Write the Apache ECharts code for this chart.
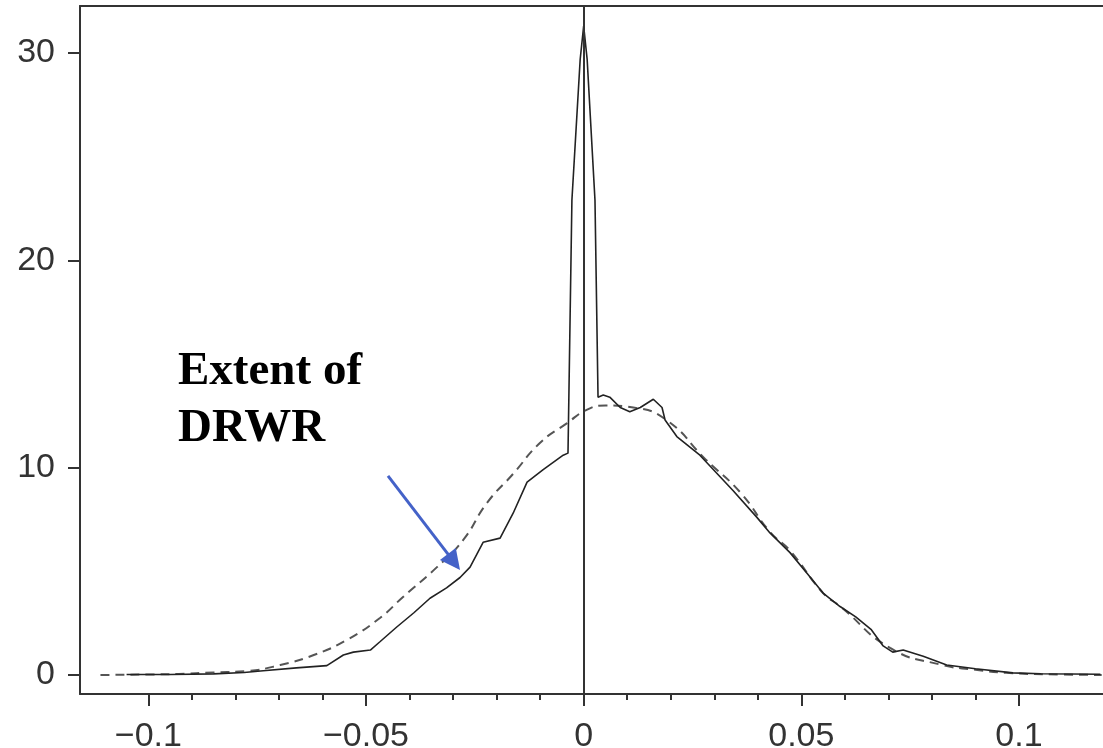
<!DOCTYPE html>
<html>
<head>
<meta charset="utf-8">
<script src="https://cdn.jsdelivr.net/npm/echarts@6/dist/echarts.min.js"></script>
<style>
  html, body { margin: 0; padding: 0; background: #fff; }
  #main { width: 1103px; height: 748px; }
</style>
</head>
<body>
<div id="main"></div>
<script>
var myChart = echarts.init(document.getElementById('main'));

// empirical density (solid line)
var empX = [-0.105, -0.095, -0.085, -0.078, -0.0736, -0.066, -0.059, -0.0552, -0.0529, -0.049,
    -0.0468, -0.043, -0.039, -0.0353, -0.0315, -0.0284, -0.0261, -0.0231, -0.0192, -0.0162,
    -0.013, -0.0093, -0.0047, -0.0036, -0.0027, -0.0008, 0, 0.0008, 0.0026, 0.0033,
    0.0045, 0.006, 0.0084, 0.0106, 0.013, 0.016, 0.018, 0.0187, 0.0214, 0.0267,
    0.0343, 0.0398, 0.0428, 0.0474, 0.0513, 0.055, 0.0589, 0.0625, 0.066, 0.0688,
    0.071, 0.0734, 0.078, 0.0834, 0.09, 0.0986, 0.105, 0.1187];
var empY = [0.02, 0.02, 0.05, 0.12, 0.2, 0.34, 0.45, 0.96, 1.1, 1.2,
    1.6, 2.3, 3.0, 3.7, 4.2, 4.7, 5.2, 6.4, 6.6, 7.8,
    9.3, 9.9, 10.6, 10.7, 22.9, 29.7, 31.3, 29.7, 22.9, 13.4,
    13.5, 13.4, 12.9, 12.7, 12.9, 13.3, 12.9, 12.3, 11.5, 10.6,
    8.9, 7.6, 6.85, 5.9, 4.9, 3.95, 3.3, 2.8, 2.2, 1.4,
    1.1, 1.2, 0.9, 0.48, 0.3, 0.1, 0.06, 0.03];

// fitted normal density (dashed line)
var normX = [-0.111, -0.1, -0.093, -0.085, -0.0773, -0.0697, -0.062, -0.0544, -0.0468, -0.0415,
    -0.0337, -0.0277, -0.0222, -0.0162, -0.01, -0.0038, 0.0008, 0.005, 0.0114, 0.019,
    0.028, 0.036, 0.0428, 0.0474, 0.055, 0.059, 0.0704, 0.0819, 0.09, 0.097, 0.11, 0.119];
var normY = [0, 0.02, 0.05, 0.12, 0.19, 0.48, 0.96, 1.69, 2.75, 3.76,
    5.2, 6.5, 8.3, 9.7, 11.2, 12.15, 12.8, 13.0, 12.9, 12.3,
    10.4, 8.8, 6.9, 6.0, 3.95, 3.3, 1.3, 0.5, 0.25, 0.1, 0.02, 0];

var xTicks = [-0.1, -0.05, 0, 0.05, 0.1];
var xMinorTicks = [-0.09, -0.08, -0.07, -0.06, -0.04, -0.03, -0.02, -0.01,
    0.01, 0.02, 0.03, 0.04, 0.06, 0.07, 0.08, 0.09];
var yTicks = [0, 10, 20, 30];

function zip(xs, ys) {
    return xs.map(function (x, i) { return [x, ys[i]]; });
}

var xMin = -0.1157, xMax = 0.1193;
var axisColor = '#333';
var labelFont = { fontFamily: '"Liberation Sans", Arial, sans-serif', fontSize: 34, color: '#333' };

option = {
    animation: false,
    grid: { left: 80, right: 0, top: 6, bottom: 54, outerBoundsMode: 'none', containLabel: false },
    xAxis: [{
        type: 'value', min: xMin, max: xMax, position: 'bottom',
        axisLine: { onZero: false, lineStyle: { color: axisColor, width: 2 } },
        axisTick: { customValues: xTicks, length: 12, lineStyle: { color: axisColor, width: 2 } },
        axisLabel: Object.assign({
            customValues: xTicks, margin: 26,
            formatter: function (v) { return String(v).replace('-', '\u2212'); }
        }, labelFont),
        splitLine: { show: false }
    }, {
        type: 'value', min: xMin, max: xMax, position: 'bottom',
        axisLine: { show: false, onZero: false },
        axisTick: { customValues: xMinorTicks, length: 6, lineStyle: { color: axisColor, width: 2 } },
        axisLabel: { show: false },
        splitLine: { show: false }
    }, {
        type: 'value', min: xMin, max: xMax, position: 'top',
        axisLine: { onZero: false, lineStyle: { color: axisColor, width: 2 } },
        axisTick: { show: false },
        axisLabel: { show: false },
        splitLine: { show: false }
    }],
    yAxis: {
        type: 'value', min: -0.92, max: 32.27,
        axisLine: { show: true, onZero: false, lineStyle: { color: axisColor, width: 2 } },
        axisTick: { show: true, customValues: yTicks, length: 12, lineStyle: { color: axisColor, width: 2 } },
        axisLabel: Object.assign({ customValues: yTicks, margin: 25 }, labelFont),
        splitLine: { show: false }
    },
    series: [{
        name: 'normal',
        type: 'line',
        showSymbol: false,
        smooth: true,
        data: zip(normX, normY),
        lineStyle: { color: '#555', width: 2, type: [9, 6] },
        markLine: {
            silent: true,
            symbol: ['none', 'triangle'],
            symbolSize: 20,
            label: { show: false },
            lineStyle: { color: '#4462c8', width: 3, type: 'solid' },
            data: [[{ coord: [-0.04495, 9.6] }, { coord: [-0.0298, 5.45] }]]
        }
    }, {
        name: 'empirical',
        type: 'line',
        showSymbol: false,
        data: zip(empX, empY),
        lineStyle: { color: '#222', width: 1.6 },
        markLine: {
            silent: true,
            symbol: ['none', 'none'],
            label: { show: false },
            lineStyle: { color: '#333', width: 2, type: 'solid' },
            data: [{ xAxis: 0 }]
        }
    }],
    graphic: [{
        type: 'text',
        left: 178,
        top: 343,
        style: {
            text: 'Extent of\nDRWR',
            font: 'bold 47px "Liberation Serif", "Times New Roman", serif',
            lineHeight: 57,
            fill: '#000'
        }
    }]
};
myChart.setOption(option);
</script>
</body>
</html>
